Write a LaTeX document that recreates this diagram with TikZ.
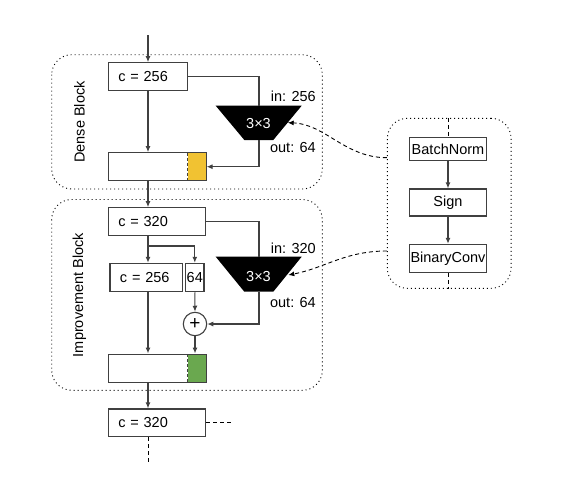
\documentclass[tikz,border=0pt]{standalone}
\usepackage{fontspec}
\setmainfont{Liberation Sans}
\usetikzlibrary{arrows.meta}
\definecolor{gold}{HTML}{F1C232}
\definecolor{leaf}{HTML}{6AA84F}
\definecolor{ln}{HTML}{404040}
\begin{document}
\begin{tikzpicture}[x=1pt,y=-1pt,
  font=\fontsize{14.5}{16}\selectfont,
  blk/.style={draw=ln, line width=1.1pt, inner ysep=0pt, inner xsep=0pt, minimum height=28pt},
  lbox/.style={blk, inner xsep=10pt, align=left},
  wire/.style={draw=ln, line width=1.1pt},
  arr/.style={wire, -{Latex[length=6pt,width=5pt]}},
  dsh/.style={draw=black, line width=0.9pt, dash pattern=on 4pt off 3pt},
  dotbox/.style={draw=black, line width=0.9pt, dash pattern=on 1pt off 3pt, rounded corners=20pt},
  trap/.style={fill=black},
  ttxt/.style={text=white, inner sep=0pt},
  lab/.style={anchor=east, inner sep=0pt},
  vlab/.style={rotate=90, inner sep=0pt}]
\useasboundingbox (0,0) rectangle (563,482);

% dotted block frames
\draw[dotbox] (51.7,54.7) rectangle (322.3,189);
\draw[dotbox] (51.7,199.5) rectangle (322.3,390.3);
\node[vlab] (dlab) at (79.5,122) {Dense Block};
\node[vlab] (ilab) at (79.5,295) {Improvement Block};

\coordinate (col) at (148,0);
\coordinate (top) at (148,35);

% Dense block
\node[lbox, text width=59.4pt] (c1) at (148,76.7) {c = 256};
\node[blk, minimum width=97.7pt, path picture={
   \fill[gold] ([xshift=-18.3pt]path picture bounding box.north east) rectangle (path picture bounding box.south east);
   \draw[ln, line width=1.1pt, dash pattern=on 3pt off 2pt] ([xshift=-18.3pt]path picture bounding box.north east) -- ([xshift=-18.3pt]path picture bounding box.south east);}] (out1) at (157.2,166.7) {};

\coordinate (t1top) at (259,105.7);
\coordinate (t1bot) at (259,140);
\fill[trap] (215.7,105.7) -- (301.7,105.7) -- (273.3,140) -- (244.3,140) -- cycle;
\node[ttxt] (k1) at (258.5,123.3) {3×3};
\coordinate (t1in) at (287.7,122.7);
\node[lab] (in1) at (316,96) {in: 256};
\node[lab] (o1) at (316,148) {out: 64};

\draw[arr] (top) -- (col |- c1.north);
\draw[arr] (col |- c1.south) -- (col |- out1.north);
\draw[wire] (c1.east) -| (t1top);
\draw[arr] (t1bot) |- (out1.east);

% Improvement block
\node[lbox, text width=77.4pt] (c2) at (157,221.7) {c = 320};
\draw[arr] (col |- out1.south) -- (col |- c2.north);
\node[lbox, text width=52.7pt, minimum height=28.4pt] (c3) at (146.3,277.5) {c = 256};
\node[blk, minimum width=18.3pt, minimum height=28.4pt] (b64) at (194.8,277.5) {64};
\node[draw=ln, line width=1.1pt, circle, minimum size=23.4pt, inner sep=0pt, font=\fontsize{19}{20}\selectfont] (plus) at (195,324) {+};
\node[blk, minimum width=97.7pt, minimum height=28.3pt, path picture={
   \fill[leaf] ([xshift=-18.3pt]path picture bounding box.north east) rectangle (path picture bounding box.south east);
   \draw[ln, line width=1.1pt, dash pattern=on 3pt off 2pt] ([xshift=-18.3pt]path picture bounding box.north east) -- ([xshift=-18.3pt]path picture bounding box.south east);}] (out2) at (157.2,368.2) {};

\coordinate (t2top) at (259,256.7);
\coordinate (t2bot) at (259,291.7);
\fill[trap] (215.7,256.7) -- (301.7,256.7) -- (273.3,291.7) -- (244.3,291.7) -- cycle;
\node[ttxt] (k2) at (258.5,276.7) {3×3};
\coordinate (t2in) at (288.3,275);
\node[lab] (in2) at (316,248.3) {in: 320};
\node[lab] (o2) at (316,302.3) {out: 64};

\coordinate (br) at (148,246);
\draw[wire] (col |- c2.south) -- (br);
\draw[arr] (br) -- (col |- c3.north);
\draw[arr] (br) -| (b64.north);
\draw[arr] (b64.south) -- (plus.north);
\draw[wire] (c2.east) -| (t2top);
\draw[arr] (t2bot) |- (plus.east);
\draw[arr] (plus.south) -- (plus.south |- out2.north);
\draw[arr] (col |- c3.south) -- (col |- out2.north);

% Next
\node[lbox, text width=77.4pt, minimum height=27.7pt] (c4) at (157,422.8) {c = 320};
\draw[arr] (col |- out2.south) -- (col |- c4.north);
\coordinate (rdash) at (233.3,422.8);
\coordinate (bdash) at (148,464);
\draw[dsh] (c4.east) -- (rdash);
\draw[dsh] (col |- c4.south) -- (bdash);

% Right panel
\node[dotbox, minimum width=123.7pt, minimum height=170pt, inner sep=0pt] (panel) at (449.2,203.3) {};
\node[blk, minimum width=76.7pt, minimum height=23.4pt] (bn) at (448,149) {BatchNorm};
\node[blk, minimum width=76.7pt, minimum height=27pt] (sg) at (448,202.5) {Sign};
\node[blk, minimum width=76.7pt, minimum height=28pt] (bc) at (448,258.3) {BinaryConv};
\draw[dsh] (panel.north -| bn.north) -- (bn.north);
\draw[dsh] (bc.south) -- (panel.south -| bc.south);
\draw[arr] (bn.south) -- (sg.north);
\draw[arr] (sg.south) -- (bc.north);

\coordinate (p1) at (panel.west |- 0,157.7);
\coordinate (p2) at (panel.west |- 0,251);
\draw[dsh, -{Latex[length=6pt,width=5pt]}] (p1) .. controls (345,157.7) and (325,124) .. (t1in);
\draw[dsh, -{Latex[length=6pt,width=5pt]}] (p2) .. controls (345,251) and (325,268) .. (t2in);
\end{tikzpicture}
\end{document}
